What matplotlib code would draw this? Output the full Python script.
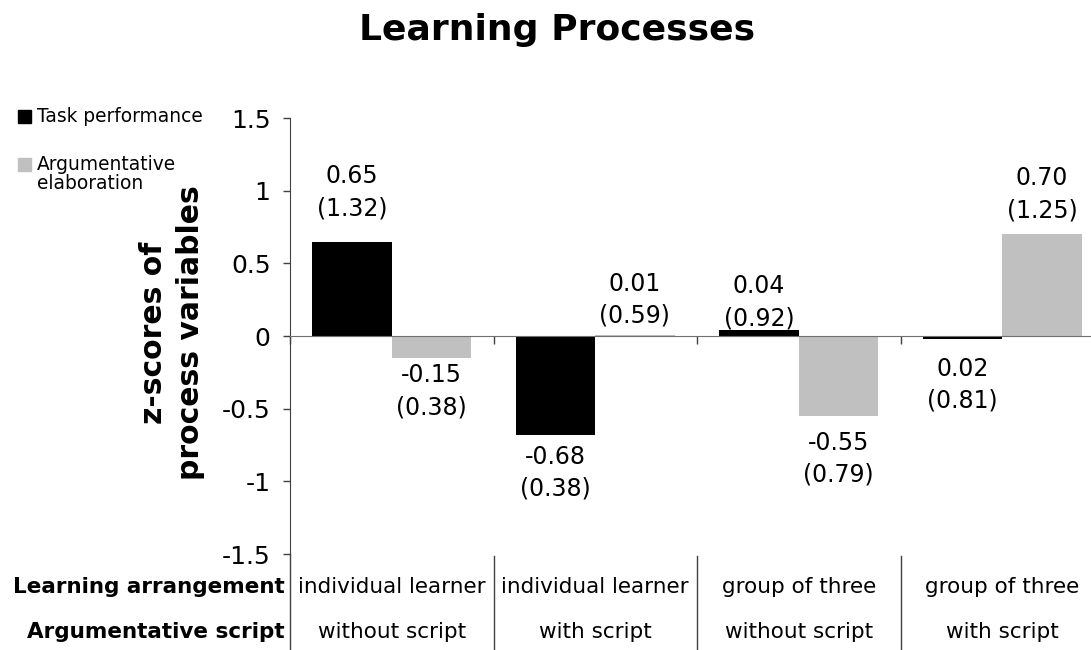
import matplotlib.pyplot as plt
from matplotlib.patches import Rectangle
from matplotlib.transforms import blended_transform_factory, offset_copy

plt.rcParams['font.family'] = ['DejaVu Sans']

ARRANGEMENTS = ["individual learner", "individual learner", "group of three", "group of three"]
SCRIPTS = ["without script", "with script", "without script", "with script"]
TASK_MEAN = [0.65, -0.68, 0.04, -0.02]
TASK_SD = [1.32, 0.38, 0.92, 0.81]
TASK_LABEL = ["0.65", "-0.68", "0.04", "0.02"]
ARG_MEAN = [-0.15, 0.01, -0.55, 0.70]
ARG_SD = [0.38, 0.59, 0.79, 1.25]
ARG_LABEL = ["-0.15", "0.01", "-0.55", "0.70"]

# label gaps (points) between bar end and its value label
TASK_PAD = [15.5, 7, 0, 13]
ARG_PAD = [4, 5, 10.5, 8.5]

BLACK = "#000000"
GRAY = "#c0c0c0"
BAR_W = 0.39


def add_labels(ax, xs, means, labels, sds, pads):
    for x, m, lab, sd, pad in zip(xs, means, labels, sds, pads):
        up = m >= 0
        tr = offset_copy(ax.transData, fig=ax.figure, x=0, y=pad if up else -pad, units="points")
        ax.text(x, m, f"{lab}\n({sd:.2f})", transform=tr, ha="center",
                va="bottom" if up else "top", fontsize=17, linespacing=1.42,
                clip_on=False)


def main():
    fig = plt.figure(figsize=(10.91, 6.5), dpi=100)
    ax = fig.add_axes([290 / 1091, 1 - 554 / 650, 801 / 1091, 436 / 650])

    n = len(ARRANGEMENTS)
    centers = [i + 0.5 for i in range(n)]
    xs_task = [c - BAR_W / 2 for c in centers]
    xs_arg = [c + BAR_W / 2 for c in centers]
    ax.bar(xs_task, TASK_MEAN, width=BAR_W, color=BLACK, zorder=2)
    ax.bar(xs_arg, ARG_MEAN, width=BAR_W, color=GRAY, zorder=2)

    add_labels(ax, xs_task, TASK_MEAN, TASK_LABEL, TASK_SD, TASK_PAD)
    add_labels(ax, xs_arg, ARG_MEAN, ARG_LABEL, ARG_SD, ARG_PAD)

    ax.set_ylim(-1.5, 1.5)
    ax.set_xlim(0, 801 / 203.5)
    ax.set_yticks([-1.5, -1, -0.5, 0, 0.5, 1, 1.5])
    ax.set_yticklabels(["-1.5", "-1", "-0.5", "0", "0.5", "1", "1.5"], fontsize=18)
    ax.set_xticks(range(n))
    ax.set_xticklabels([])
    ax.tick_params(axis="y", length=5, width=1, color="#404040", pad=9)
    ax.tick_params(axis="x", length=6, width=1, color="#404040")

    for s in ("top", "right"):
        ax.spines[s].set_visible(False)
    ax.spines["bottom"].set_position(("data", 0))
    ax.spines["bottom"].set_color("#707070")
    ax.spines["left"].set_color("#404040")

    # table below the axis
    tb = blended_transform_factory(ax.transData, ax.transAxes)
    ax.plot([0, 0], [0, -0.22], color="#404040", lw=1, transform=tb, clip_on=False)
    for i in range(1, n):
        ax.plot([i, i], [-0.005, -0.22], color="#404040", lw=1, transform=tb, clip_on=False)
    for c, a, s in zip(centers, ARRANGEMENTS, SCRIPTS):
        ax.text(c, -0.0757, a, transform=tb, ha="center", va="center", fontsize=15.5, clip_on=False)
        ax.text(c, -0.179, s, transform=tb, ha="center", va="center", fontsize=15.5, clip_on=False)
    fig.text(285 / 1091, 1 - 587 / 650, "Learning arrangement", ha="right", va="center",
             fontsize=15.5, fontweight="bold")
    fig.text(285 / 1091, 1 - 632 / 650, "Argumentative script", ha="right", va="center",
             fontsize=15.5, fontweight="bold")

    fig.text(172 / 1091, 1 - 333 / 650, "z-scores of\nprocess variables", rotation=90,
             ha="center", va="center", fontsize=21.5, fontweight="bold", linespacing=1.35)

    fig.text(557 / 1091, 1 - 30 / 650, "Learning Processes", ha="center", va="center",
             fontsize=26, fontweight="bold")

    # legend
    sq = 13
    fig.add_artist(Rectangle((18 / 1091, 1 - 123 / 650), sq / 1091, sq / 650,
                             color=BLACK, transform=fig.transFigure))
    fig.text(37 / 1091, 1 - 117 / 650, "Task performance", ha="left", va="center", fontsize=13.4)
    fig.add_artist(Rectangle((18 / 1091, 1 - 171 / 650), sq / 1091, sq / 650,
                             color=GRAY, transform=fig.transFigure))
    fig.text(37 / 1091, 1 - 174 / 650, "Argumentative\nelaboration", ha="left", va="center",
             fontsize=13.4, linespacing=1.05)

    fig.savefig("out.png", dpi=100)


if __name__ == "__main__":
    main()
